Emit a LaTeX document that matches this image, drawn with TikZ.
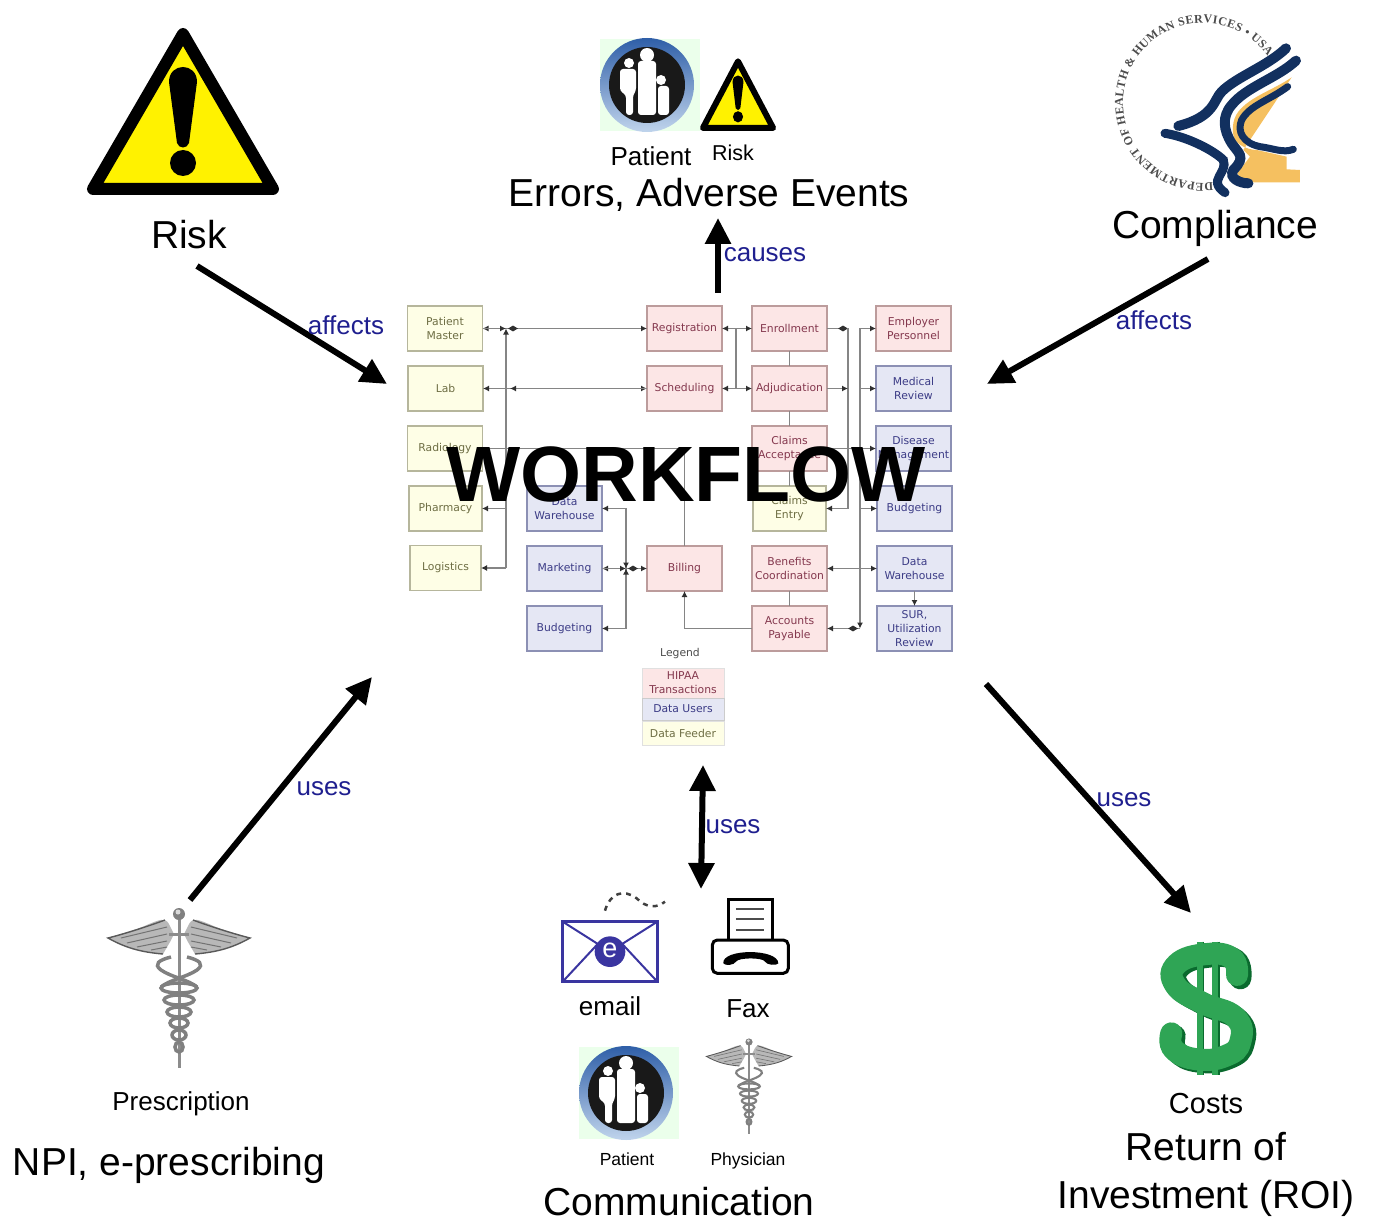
\documentclass[tikz,border=0pt]{standalone}
\usepackage{fontspec}
\setmainfont{Liberation Sans}
\newfontfamily\boxfont{DejaVu Sans}
\newfontfamily\sealfont{Liberation Serif}
\usetikzlibrary{arrows.meta,shapes.geometric,decorations.text}
\definecolor{warnyellow}{HTML}{FFF200}
\definecolor{labelblue}{HTML}{1F1F8F}
\definecolor{navy}{HTML}{12305F}
\definecolor{gold}{HTML}{F5C060}
\definecolor{mailblue}{HTML}{3A35A0}
\definecolor{dollarlight}{HTML}{2FA555}
\definecolor{dollardark}{HTML}{0A6A2E}
\definecolor{wiregrey}{HTML}{858585}
\definecolor{tipgrey}{HTML}{303030}
\definecolor{redfill}{HTML}{FCE6E6}
\definecolor{redline}{HTML}{BC9C9C}
\definecolor{redtext}{HTML}{84384E}
\definecolor{bluefill}{HTML}{E5E7F4}
\definecolor{blueline}{HTML}{8C90B4}
\definecolor{bluetext}{HTML}{3C3C86}
\definecolor{yellowfill}{HTML}{FEFEE6}
\definecolor{yellowline}{HTML}{B6B69C}
\definecolor{yellowtext}{HTML}{6E6E44}
\definecolor{ringdark}{HTML}{2F5FA8}
\definecolor{ringpale}{HTML}{C0D4EC}
\tikzset{
	warnsign/.pic={
		\draw[fill=warnyellow,line join=round,line width=#1] (0,-76) -- (-90,79) -- (90,79) -- cycle;
		\fill (-14,-28) .. controls (-14,-48) and (14,-48) .. (14,-28) -- (6,33) .. controls (4,39) and (-4,39) .. (-6,33) -- cycle;
		\fill (0,53) circle (13);
	},
	patientsign/.pic={
		\fill[green!8!white] (-47,-46) rectangle (53,46);
		\shade[top color=ringdark,bottom color=ringpale] (0,0) circle (47);
		\fill[black!90] (0,0) circle (38);
		\fill[white] (0,-30) circle (7) (-18,-22) circle (5) (14,-5) circle (5);
		\fill[white,rounded corners=3pt] (-9,-24) -- (9,-24) -- (9,30) -- (-9,30) -- cycle;
		\fill[white,rounded corners=3pt] (-27,-16) -- (-11,-16) -- (-11,6) -- (-14,10) -- (-14,30) -- (-21,30) -- (-21,10) -- (-27,6) -- cycle;
		\fill[white,rounded corners=3pt] (11,1) -- (22,1) -- (22,30) -- (11,30) -- cycle;
	},
	caduceus/.pic={
		\begin{scope}[scale=#1]
			\foreach \s in {-1,1} {
				\begin{scope}[xscale=\s]
					\fill[black!28] (-5,20) -- (-10,10) .. controls (-14,3) and (-20,6) .. (-30,10) .. controls (-45,17) and (-60,20) .. (-71,24) .. controls (-58,32) and (-40,38) .. (-16,40) -- (-9,28) -- cycle;
					\draw[black!65,line width=#1*1.4pt] (-14,6) .. controls (-30,12) and (-55,20) .. (-71,24) .. controls (-55,33) and (-40,38) .. (-16,40);
					\draw[black!55,line width=#1*1pt] (-12,13) -- (-58,24) (-12,20) -- (-52,29) (-12,27) -- (-42,33) (-12,33) -- (-28,36);
				\end{scope}
			}
			\draw[black!45,line width=#1*3pt] (-10,20) -- (10,20);
			\draw[black!45,line width=#1*3pt] (0,0) -- (0,154);
			\fill[black!50] (0,0) circle (6);
			\fill[black!15] (-1,-2) circle (2.5);
			\draw[black!50,line width=#1*3.5pt] (-8,43) .. controls (-20,46) and (-26,50) .. (-18,56) .. controls (-8,63) and (10,66) .. (18,73);
			\draw[black!50,line width=#1*3.5pt] (8,43) .. controls (20,46) and (26,50) .. (18,56) .. controls (8,63) and (-10,66) .. (-18,73);
			\foreach \y/\w in {74/18,86/15,98/12,109/9,121/7,133/4} {
				\draw[black!50,line width=#1*3.5pt] (0,\y) circle [x radius=\w,y radius=5];
			}
		\end{scope}
	}
}
\begin{document}
\begin{tikzpicture}[x=1pt,y=-1pt,
	txt/.style={inner sep=0pt,font=\fontsize{39}{46}\selectfont,align=center},
	midtxt/.style={inner sep=0pt,font=\fontsize{26}{30}\selectfont},
	smalltxt/.style={inner sep=0pt,font=\fontsize{17.5}{20}\selectfont},
	verb/.style={inner sep=0pt,text=labelblue,font=\fontsize{26}{30}\selectfont},
	bigarrow/.style={line width=6pt,-{Triangle[length=26pt,width=25pt]}},
	box/.style={draw,minimum width=75pt,minimum height=45pt,inner sep=0pt,outer sep=0pt,line width=1.3pt,align=center,font=\boxfont\fontsize{10.8}{14}\selectfont},
	redbox/.style={box,fill=redfill,draw=redline,text=redtext},
	bluebox/.style={box,fill=bluefill,draw=blueline,text=bluetext},
	yellowbox/.style={box,fill=yellowfill,draw=yellowline,text=yellowtext},
	wire/.style={draw=wiregrey,line width=1.5pt},
	tipend/.style={-{Latex[length=6pt,width=6pt,color=tipgrey]}},
	tipboth/.style={{Latex[length=6pt,width=6pt,color=tipgrey]}-{Latex[length=6pt,width=6pt,color=tipgrey]}},
	junction/.style={diamond,fill=tipgrey,inner sep=0pt,minimum width=10pt,minimum height=6pt}]
	\useasboundingbox (0,0) rectangle (1375,1222);

	% workflow boxes
	\node[yellowbox] (patient) at (445,328.5) {Patient\\Master};
	\node[yellowbox] (lab) at (445.5,388.5) {Lab};
	\node[yellowbox] (radio) at (445,448.5) {Radiology};
	\node[yellowbox,minimum width=73pt] (pharma) at (445.5,508.5) {Pharmacy};
	\node[yellowbox,minimum width=71pt] (logist) at (445.5,568) {Logistics};
	\node[bluebox] (dwarea) at (564.5,508.5) {Data\\Warehouse};
	\node[bluebox] (market) at (564.5,568.5) {Marketing};
	\node[bluebox] (budgeta) at (564.5,628.5) {Budgeting};
	\node[redbox] (regist) at (684.5,328.5) {Registration};
	\node[redbox] (sched) at (684.5,388.5) {Scheduling};
	\node[redbox] (billing) at (684.5,568.5) {Billing};
	\node[redbox] (enroll) at (789.5,328.5) {Enrollment};
	\node[redbox] (adjud) at (789.5,388.5) {Adjudication};
	\node[redbox] (accept) at (789.5,448.5) {Claims\\Acceptance};
	\node[yellowbox,minimum width=73pt] (centry) at (789.5,508.5) {Claims\\Entry};
	\node[redbox] (benefit) at (789.5,568.5) {Benefits\\Coordination};
	\node[redbox] (payable) at (789.5,628.5) {Accounts\\Payable};
	\node[redbox] (employ) at (913.5,328.5) {Employer\\Personnel};
	\node[bluebox] (medic) at (913.5,388.5) {Medical\\Review};
	\node[bluebox] (disease) at (913.5,448.5) {Disease\\Management};
	\node[bluebox] (budgetb) at (914.5,508.5) {Budgeting};
	\node[bluebox] (dwareb) at (914.5,568.5) {Data\\Warehouse};
	\node[bluebox] (sur) at (914.5,628.5) {SUR,\\Utilization\\Review};

	% legend
	\node[inner sep=0pt,text=black!70,font=\boxfont\fontsize{10.8}{14}\selectfont] (legend) at (680,654) {Legend};
	\node[redbox,draw=black!12,line width=.8pt,minimum width=82pt,minimum height=30pt] (hipaa) at (683,683) {HIPAA\\Transactions};
	\node[bluebox,draw=black!20,line width=.8pt,minimum width=82pt,minimum height=22pt] (users) at (683,709) {Data Users};
	\node[yellowbox,draw=black!12,line width=.8pt,minimum width=82pt,minimum height=24pt] (feeder) at (683,733.5) {Data Feeder};

	% junctions
	\coordinate (jpatient) at (506,328.5);
	\coordinate (jlogist) at (506,568);
	\coordinate (jpharma) at (506,508.5);
	\coordinate (jlab) at (510,388.5);
	\coordinate (jmarket) at (626,568.5);
	\coordinate (jreg) at (736,328.5);
	\coordinate (jsched) at (736,388.5);
	\coordinate (jenroll) at (848,328.5);
	\coordinate (jadjud) at (848,388.5);
	\coordinate (jemploy) at (860,328.5);
	\coordinate (jmedic) at (860,388.5);
	\coordinate (jbudget) at (860,508.5);
	\coordinate (jpay) at (860,628.5);

	% left wires
	\draw[wire,tipboth] (patient.east) -- (regist.west);
	\draw[wire,tipend] (patient.east) -- (jpatient);
	\draw[wire,tipend] (jlogist) -- (jpatient);
	\draw[wire,tipboth] (lab.east) -- (sched.west);
	\draw[wire,tipend] (sched.west) -- (jlab);
	\draw[wire,tipend] (jpharma) -- (pharma.east);
	\draw[wire,tipend] (jlogist) -- (logist.east);
	\draw[wire] (radio.east) -| (billing.north);
	\node[junction] (dpatient) at (513,328.5) {};

	% middle wires
	\draw[wire,tipboth] (market.east) -- (billing.west);
	\draw[wire,tipend] (market.east) -- (jmarket);
	\draw[wire,tipend] (jmarket) |- (dwarea.east);
	\draw[wire,tipend] (jmarket) |- (budgeta.east);
	\draw[wire,tipend] (jmarket |- dwarea) -- (jmarket);
	\draw[wire,tipend] (jmarket |- budgeta) -- (jmarket);
	\node[junction] (dmarket) at (633,568.5) {};
	\draw[wire,tipend] (payable.west) -| (billing.south);

	% right wires
	\draw[wire,tipboth] (regist.east) -- (enroll.west);
	\draw[wire,tipboth] (sched.east) -- (adjud.west);
	\draw[wire] (jreg) -- (jsched);
	\draw[wire] (enroll) -- (adjud);
	\draw[wire] (adjud) -- (accept);
	\draw[wire] (accept) -- (centry);
	\draw[wire] (benefit) -- (payable);
	\draw[wire] (enroll.east) -- (jenroll);
	\node[junction] (denroll) at (843,328.5) {};
	\draw[wire,tipend] (jenroll) |- (centry.east);
	\draw[wire,tipend] (adjud.east) -- (jadjud);
	\draw[wire,tipend] (accept.east) -- (disease.west);
	\draw[wire,tipend] (jemploy) -- (employ.west);
	\draw[wire,tipend] (jmedic) -- (medic.west);
	\draw[wire,tipend] (jbudget) -- (budgetb.west);
	\draw[wire,tipend] (jemploy) -- (jpay);
	\draw[wire,tipend] (jpay) -- (payable.east);
	\node[junction] (dpay) at (853,628.5) {};
	\draw[wire,tipboth] (benefit.east) -- (dwareb.west);
	\draw[wire,tipend] (dwareb) -- (sur);

	\node[inner sep=0pt,font=\bfseries\fontsize{78.5}{80}\selectfont] (workflow) at (686,474) {WORKFLOW};

	% risk, top left
	\pic (riskbig) at (183,110) {warnsign=12pt};
	\node[txt] (risk) at (189,235) {Risk};

	% errors, top
	\pic (patienta) at (647,85) {patientsign};
	\pic[xscale=.39,yscale=.43] (risksmall) at (738,94) {warnsign=6pt};
	\node[midtxt] (patientlab) at (651,156) {Patient};
	\node[inner sep=0pt,font=\fontsize{21.5}{24}\selectfont] (risklab) at (733,153) {Risk};
	\node[txt] (errors) at (709,195) {Errors, Adverse Events};

	% compliance, top right
	\begin{scope}[shift={(1100,0)},scale=.3333]
		\fill[gold] (575,232) .. controls (520,270) and (450,290) .. (415,335) .. controls (395,360) and (395,400) .. (405,420) .. controls (420,440) and (450,450) .. (470,450) -- (560,470) -- (560,508) -- (600,510) -- (600,547) -- (430,547) -- (412,520) -- (450,470) -- (430,450) -- cycle;
		\draw[navy,line width=10pt,line cap=round] (558,145) .. controls (500,200) and (410,230) .. (365,275) .. controls (340,300) and (345,350) .. (235,378);
		\draw[navy,line width=10pt,line cap=round] (588,182) .. controls (530,235) and (440,260) .. (395,315) .. controls (365,350) and (370,390) .. (395,430) .. controls (415,460) and (440,470) .. (400,510) .. controls (385,535) and (420,550) .. (445,550);
		\draw[navy,line width=7pt,line cap=round] (563,260) .. controls (510,300) and (450,315) .. (425,360) .. controls (410,395) and (430,430) .. (480,440) .. controls (520,445) and (550,460) .. (580,448);
		\draw[navy,line width=9pt,line cap=round] (195,400) .. controls (260,410) and (340,450) .. (370,480) .. controls (385,520) and (320,540) .. (375,578);
	\end{scope}
	\path[decorate,decoration={text along path,text align={fit to path},text={|\sealfont\bfseries\fontsize{12}{13}\selectfont\color{black!70}|DEPARTMENT OF HEALTH {\&} HUMAN SERVICES • USA}}] (1203,103) ++(83:80) arc (83:324:80);
	\node[txt] (compliance) at (1215,228) {Compliance};

	% prescription, bottom left
	\pic (cadleft) at (179,914) {caduceus=1};
	\node[midtxt] (prescr) at (181,1104) {Prescription};
	\node[inner sep=0pt,font=\fontsize{39}{46}\selectfont] (npi) at (169,1165) {NPI, e-prescribing};

	% communication, bottom
	\begin{scope}[shift={(550,880)},scale=.3333]
		\draw[mailblue,line width=3pt] (38,125) rectangle (322,305);
		\draw[mailblue,line width=2pt] (38,125) -- (180,215) -- (322,125) (38,305) -- (145,190) (322,305) -- (215,190);
		\fill[mailblue] (180,215) circle (46);
		\node[inner sep=0pt,text=white,font=\fontsize{27}{30}\selectfont] (maile) at (180,212) {e};
		\draw[black!75,line width=2.5pt,dash pattern=on 5pt off 5pt] (165,92) .. controls (180,40) and (220,25) .. (260,55) .. controls (290,85) and (320,85) .. (345,65);
		\draw[line width=2.5pt,fill=white] (535,58) rectangle (668,190);
		\draw[line width=2pt,black!70] (558,88) -- (642,88) (558,118) -- (642,118) (558,150) -- (642,150);
		\draw[line width=3pt,fill=white,rounded corners=5pt] (487,180) rectangle (715,280);
		\fill (520,250) .. controls (515,205) and (685,205) .. (685,250) .. controls (680,258) and (650,255) .. (645,245) .. controls (640,232) and (565,232) .. (558,245) .. controls (552,256) and (525,258) .. (520,250) -- cycle;
	\end{scope}
	\node[midtxt] (emaillab) at (610,1006) {email};
	\node[midtxt] (faxlab) at (748,1009) {Fax};
	\pic (patientb) at (626,1093) {patientsign};
	\pic (cadright) at (749,1042) {caduceus=.6};
	\node[smalltxt] (patientc) at (627,1159) {Patient};
	\node[smalltxt] (physician) at (748,1161) {Physician};
	\node[txt] (comm) at (679,1202) {Communication};

	% costs, bottom right
	\begin{scope}[shift={(1142,930)},scale=.3333]
		\draw[dollardark,line width=7pt] (175,35) -- (175,435) (222,35) -- (222,435);
		\draw[dollardark,line width=22pt,line cap=round] plot[smooth,tension=.8] coordinates {(295,145) (280,90) (200,80) (115,110) (110,170) (190,225) (290,270) (305,340) (260,385) (170,395) (105,365) (98,318)};
		\draw[dollarlight,line width=22pt,line cap=round] plot[smooth,tension=.8] coordinates {(285,135) (270,85) (195,72) (105,102) (100,165) (180,218) (280,262) (295,335) (250,378) (165,388) (95,358) (88,310)};
		\draw[dollarlight,line width=6pt] (173,35) -- (173,435) (220,35) -- (220,435);
	\end{scope}
	\node[inner sep=0pt,font=\fontsize{29}{32}\selectfont] (costs) at (1206,1104) {Costs};
	\node[txt,font=\fontsize{39}{48}\selectfont] (roi) at (1206,1174) {Return of\\Investment (ROI)};

	% big arrows
	\coordinate (riskfrom) at (197,266);
	\coordinate (riskto) at (387,384);
	\coordinate (errfrom) at (718,293);
	\coordinate (errto) at (718,218);
	\coordinate (compfrom) at (1208,259);
	\coordinate (compto) at (987,384);
	\coordinate (presfrom) at (190,900);
	\coordinate (presto) at (372,677);
	\coordinate (commfrom) at (703,765);
	\coordinate (commto) at (701,889);
	\coordinate (roifrom) at (986,684);
	\coordinate (roito) at (1191,913);
	\draw[bigarrow] (riskfrom) -- (riskto);
	\draw[bigarrow] (errfrom) -- (errto);
	\draw[bigarrow] (compfrom) -- (compto);
	\draw[bigarrow] (presfrom) -- (presto);
	\draw[bigarrow,{Triangle[length=26pt,width=25pt]}-{Triangle[length=26pt,width=25pt]}] (commfrom) -- (commto);
	\draw[bigarrow] (roifrom) -- (roito);
	\node[verb] (affecta) at (346,325) {affects};
	\node[verb] (causes) at (765,255) {causes};
	\node[verb] (affectb) at (1154,320) {affects};
	\node[verb] (usesa) at (324,789) {uses};
	\node[verb] (usesb) at (733,827) {uses};
	\node[verb] (usesc) at (1124,800) {uses};
\end{tikzpicture}
\end{document}
